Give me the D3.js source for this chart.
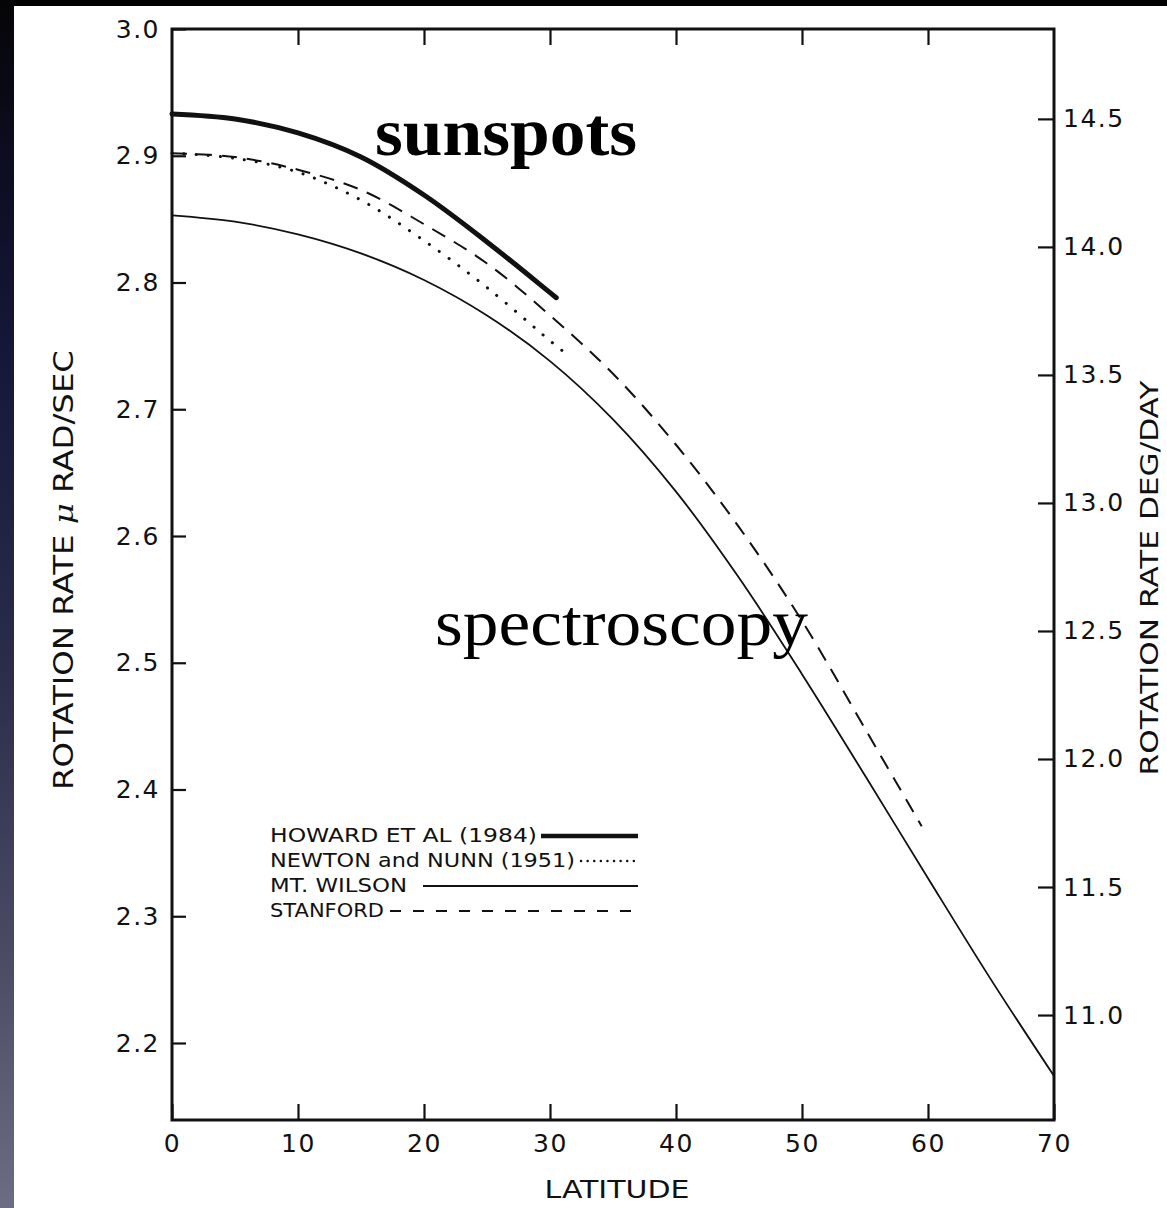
<!DOCTYPE html>
<html>
<head>
<meta charset="utf-8">
<script src="https://cdn.jsdelivr.net/npm/d3@7"></script>
<style>
  body { margin: 0; background: #000; overflow: hidden; }
  svg { display: block; }
  .axis text { font-family: "DejaVu Sans", sans-serif; font-size: 25px; fill: #111; letter-spacing: 1.5px; }
  .axis line { stroke: #111; stroke-width: 2.2; }
  .label { font-family: "DejaVu Sans", sans-serif; fill: #111; }
  .curve { fill: none; stroke: #111; }
</style>
</head>
<body>
<div id="chart"></div>
<script>
// Values (rotation rate in micro rad/sec vs latitude in degrees)
const howardLat  = [0, 5, 10, 15, 20, 25, 30, 30.5];
const howardRate = [2.933, 2.929, 2.918, 2.899, 2.869, 2.832, 2.792, 2.788];

const newtonLat  = [0, 5, 10, 15, 20, 25, 30, 31];
const newtonRate = [2.902, 2.898, 2.887, 2.865, 2.833, 2.796, 2.754, 2.746];

const wilsonLat  = [0, 5, 10, 15, 20, 25, 30, 35, 40, 45, 50, 55, 60, 65, 70];
const wilsonRate = [2.853, 2.848, 2.838, 2.823, 2.802, 2.774, 2.738, 2.692, 2.635, 2.567, 2.491, 2.411, 2.330, 2.250, 2.174];

const stanfordLat  = [0, 5, 10, 15, 20, 25, 30, 35, 40, 45, 50, 55, 59.5];
const stanfordRate = [2.902, 2.899, 2.889, 2.873, 2.846, 2.815, 2.774, 2.728, 2.672, 2.607, 2.533, 2.448, 2.371];

const latTicks  = [0, 10, 20, 30, 40, 50, 60, 70];
const topTicks  = [10, 20, 30, 40, 50, 60];
const rateTicks = [2.2, 2.3, 2.4, 2.5, 2.6, 2.7, 2.8, 2.9, 3.0];
const degTicks  = [11.0, 11.5, 12.0, 12.5, 13.0, 13.5, 14.0, 14.5];

const legendLabels = ["HOWARD  ET  AL (1984)", "NEWTON  and  NUNN  (1951)", "MT. WILSON", "STANFORD"];
const legendKeys   = ["howard", "newton", "wilson", "stanford"];

// 1 micro rad/sec expressed in deg/day
const DEG_PER_URAD = 86400e-6 * 180 / Math.PI;

const W = 1167, H = 1208;
const plot = { left: 172, right: 1054, top: 29, bottom: 1120 };

const svg = d3.select("#chart").append("svg")
    .attr("width", W)
    .attr("height", H);

// Slide background: black bar on top, dark gradient strip on the left, white page
const grad = svg.append("defs").append("linearGradient")
    .attr("id", "strip")
    .attr("x1", 0).attr("y1", 0).attr("x2", 0).attr("y2", 1);
[["0%", "#050507"], ["10%", "#0b0b1a"], ["30%", "#16183a"], ["55%", "#2a2c4a"], ["80%", "#4c4c64"], ["100%", "#6c6c82"]]
    .forEach(([o, c]) => grad.append("stop").attr("offset", o).attr("stop-color", c));
svg.append("rect").attr("width", W).attr("height", H).attr("fill", "#000");
svg.append("rect").attr("x", 0).attr("y", 0).attr("width", 14).attr("height", H).attr("fill", "url(#strip)");
svg.append("rect").attr("x", 14).attr("y", 6).attr("width", W - 14).attr("height", H - 6).attr("fill", "#fff");

// Scales
const x = d3.scaleLinear().domain([0, 70]).range([plot.left, plot.right]);
const y = d3.scaleLinear().domain([2.2, 3.0]).range([1043, plot.top]);
const yDeg = d3.scaleLinear().domain(y.domain().map(v => v * DEG_PER_URAD)).range(y.range());

// Axes (ticks drawn inward)
svg.append("g")
    .attr("class", "axis")
    .attr("transform", `translate(0,${plot.bottom})`)
    .call(d3.axisBottom(x).tickValues(latTicks).tickSize(-16).tickPadding(14).tickFormat(d3.format("d")))
    .call(g => g.select(".domain").remove());

svg.append("g")
    .attr("class", "axis")
    .attr("transform", `translate(0,${plot.top})`)
    .call(d3.axisTop(x).tickValues(topTicks).tickSize(-16).tickFormat(""))
    .call(g => g.select(".domain").remove());

svg.append("g")
    .attr("class", "axis")
    .attr("transform", `translate(${plot.left},0)`)
    .call(d3.axisLeft(y).tickValues(rateTicks).tickSize(-14).tickPadding(12).tickFormat(d3.format(".1f")))
    .call(g => g.select(".domain").remove());

svg.append("g")
    .attr("class", "axis")
    .attr("transform", `translate(${plot.right},0)`)
    .call(d3.axisRight(yDeg).tickValues(degTicks).tickSize(-16).tickPadding(9).tickFormat(d3.format(".1f")))
    .call(g => g.select(".domain").remove());

// Frame
svg.append("rect")
    .attr("x", plot.left).attr("y", plot.top)
    .attr("width", plot.right - plot.left).attr("height", plot.bottom - plot.top)
    .attr("fill", "none").attr("stroke", "#111").attr("stroke-width", 3);

// Curves
const line = d3.line()
    .x(d => x(d[0]))
    .y(d => y(d[1]))
    .curve(d3.curveCatmullRom.alpha(0.5));

const styles = {
    howard:   { width: 5,   dash: null,     cap: "round" },
    newton:   { width: 3,   dash: "0.1,12", cap: "round" },
    wilson:   { width: 1.8, dash: null,     cap: "butt" },
    stanford: { width: 2,   dash: "15,10",  cap: "butt" }
};
const legendDash = { newton: "0.1,6.5", stanford: "11,12" };

const series = [
    { key: "howard",   pts: d3.zip(howardLat, howardRate) },
    { key: "newton",   pts: d3.zip(newtonLat, newtonRate) },
    { key: "wilson",   pts: d3.zip(wilsonLat, wilsonRate) },
    { key: "stanford", pts: d3.zip(stanfordLat, stanfordRate) }
];

svg.append("g")
    .selectAll("path")
    .data(series)
    .join("path")
        .attr("class", "curve")
        .attr("d", d => line(d.pts))
        .attr("stroke-width", d => styles[d.key].width)
        .attr("stroke-dasharray", d => styles[d.key].dash)
        .attr("stroke-linecap", d => styles[d.key].cap);

// Legend
const legendWidths = [267, 305, 137, 114];
const legendGaps = [4, 6, 16, 6];
const legend = svg.append("g").attr("transform", "translate(270,842)");
legendLabels.forEach((label, i) => {
    const key = legendKeys[i];
    const row = legend.append("g").attr("transform", `translate(0,${i * 25})`);
    row.append("text")
        .attr("class", "label")
        .attr("font-size", 20)
        .attr("textLength", legendWidths[i])
        .attr("lengthAdjust", "spacingAndGlyphs")
        .text(label);
    row.append("line")
        .attr("x1", legendWidths[i] + legendGaps[i])
        .attr("x2", 368)
        .attr("y1", -6).attr("y2", -6)
        .attr("stroke", "#111")
        .attr("stroke-width", key === "howard" ? 4.5 : (key === "newton" ? 2.4 : 2))
        .attr("stroke-linecap", key === "newton" ? "round" : "butt")
        .attr("stroke-dasharray", legendDash[key] || null);
});

// Axis titles
svg.append("text")
    .attr("class", "label")
    .attr("font-size", 25)
    .attr("x", 617).attr("y", 1198)
    .attr("text-anchor", "middle")
    .attr("textLength", 145)
    .attr("lengthAdjust", "spacingAndGlyphs")
    .text("LATITUDE");

const leftTitle = svg.append("text")
    .attr("class", "label")
    .attr("font-size", 26)
    .attr("transform", "translate(73,570) rotate(-90)")
    .attr("text-anchor", "middle")
    .attr("textLength", 440)
    .attr("lengthAdjust", "spacingAndGlyphs");
leftTitle.append("tspan").text("ROTATION  RATE  ");
leftTitle.append("tspan").attr("font-style", "italic").attr("font-family", "DejaVu Serif, serif").text("μ");
leftTitle.append("tspan").text(" RAD/SEC");

svg.append("text")
    .attr("class", "label")
    .attr("font-size", 24)
    .attr("transform", "translate(1158,578) rotate(-90)")
    .attr("text-anchor", "middle")
    .attr("textLength", 395)
    .attr("lengthAdjust", "spacingAndGlyphs")
    .text("ROTATION  RATE  DEG/DAY");

// Slide annotations
svg.append("text")
    .attr("x", 375).attr("y", 155)
    .attr("font-family", "Liberation Serif, serif")
    .attr("font-weight", "bold")
    .attr("font-size", 68)
    .attr("fill", "#000")
    .attr("textLength", 262)
    .attr("lengthAdjust", "spacingAndGlyphs")
    .text("sunspots");

svg.append("text")
    .attr("x", 435).attr("y", 645)
    .attr("font-family", "Liberation Serif, serif")
    .attr("font-size", 66)
    .attr("fill", "#000")
    .attr("textLength", 373)
    .attr("lengthAdjust", "spacingAndGlyphs")
    .text("spectroscopy");
</script>
</body>
</html>
